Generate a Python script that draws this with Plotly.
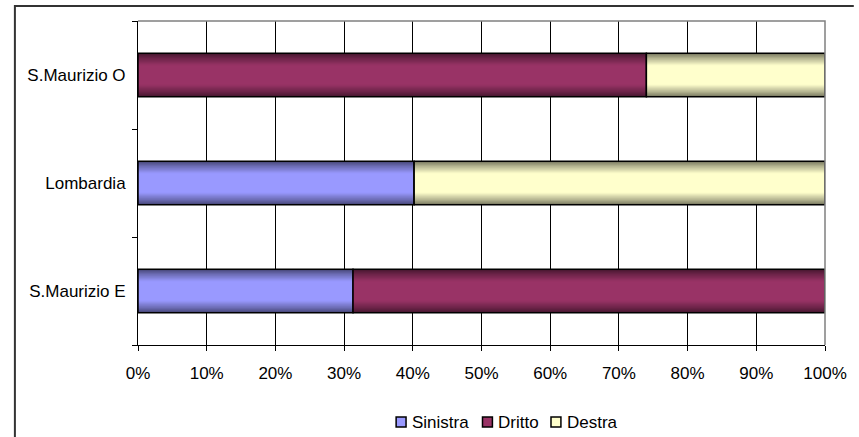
import plotly.graph_objects as go

categories = ["S.Maurizio E", "Lombardia", "S.Maurizio O"]
sinistra = [31.3, 40.2, 0.0]
dritto = [68.7, 0.0, 74.0]
destra = [0.0, 59.8, 26.0]

series = [
    ("Sinistra", sinistra, (153, 153, 255)),
    ("Dritto", dritto, (153, 51, 102)),
    ("Destra", destra, (255, 255, 204)),
]

BAR_W = 0.405
N_LAYERS = 12


def shade(rgb, f):
    return "rgb(%d,%d,%d)" % tuple(round(c * f) for c in rgb)


fig = go.Figure()

base = [0.0] * len(categories)
for name, vals, rgb in series:
    # fake the Excel gradient: stacked layers, darker at the edges
    for k in range(N_LAYERS):
        t = k / (N_LAYERS - 1)
        fig.add_trace(go.Bar(
            y=categories, x=vals, base=base, orientation="h",
            width=BAR_W * (1 - 0.55 * t),
            marker=dict(color=shade(rgb, 0.45 + 0.55 * t ** 0.8), line=dict(width=0)),
            showlegend=False, hoverinfo="skip",
        ))
    # black outline
    fig.add_trace(go.Bar(
        y=categories, x=vals, base=base, orientation="h", width=BAR_W,
        marker=dict(color="rgba(0,0,0,0)", line=dict(color="black", width=1.5)),
        showlegend=False, name=name,
    ))
    base = [b + v for b, v in zip(base, vals)]

L, R, T, B = 138, 29, 21, 92
W, H = 859, 437
pw, ph = W - L - R, H - T - B


def px_x(x):
    return (x - L) / pw


def px_y(y):
    return (H - B - y) / ph


shapes = [
    # plot area frame (top/right grey)
    dict(type="path", xref="paper", yref="paper",
         path="M 0 1 L 1 1 L 1 0", line=dict(color="#808080", width=1.5), layer="above"),
    # outer chart frame
    dict(type="path", xref="paper", yref="paper",
         path=f"M {px_x(14)} {px_y(437)} L {px_x(14)} {px_y(6)} L {px_x(859)} {px_y(6)}",
         line=dict(color="#333333", width=2)),
]
annotations = []

# hand-made legend, Excel style (small square + label)
legend_x = [398, 485, 554]
for (name, vals, rgb), lx in zip(series, legend_x):
    shapes.append(dict(type="rect", xref="paper", yref="paper",
                       x0=px_x(lx), x1=px_x(lx + 10), y0=px_y(427), y1=px_y(417),
                       fillcolor=shade(rgb, 1.0), line=dict(color="black", width=1.5)))
    annotations.append(dict(xref="paper", yref="paper", x=px_x(lx + 14), y=px_y(422),
                            xanchor="left", yanchor="middle", text=name, showarrow=False,
                            font=dict(size=17)))

fig.update_layout(
    width=W - 16, height=H - 16,
    margin=dict(l=L, r=R, t=T, b=B, pad=0),
    barmode="overlay",
    showlegend=False,
    paper_bgcolor="white", plot_bgcolor="white",
    font=dict(family="Liberation Sans, Arial, sans-serif", size=17, color="black"),
    xaxis=dict(
        range=[0, 100], tickvals=list(range(0, 101, 10)),
        ticktext=[f"{v}%" for v in range(0, 101, 10)],
        showgrid=True, gridcolor="black", gridwidth=1,
        showline=True, linecolor="black", linewidth=1,
        ticks="outside", ticklen=5, tickcolor="black", zeroline=False,
        ticklabelstandoff=8, fixedrange=True,
    ),
    yaxis=dict(
        categoryorder="array", categoryarray=categories, range=[-0.5, 2.5],
        showline=True, linecolor="black", linewidth=1, showgrid=False,
        ticks="outside", ticklen=5, tickcolor="black", tickson="boundaries",
        ticklabelstandoff=8, fixedrange=True,
    ),
    shapes=shapes,
    annotations=annotations,
)

# page opens with the default 8px body margin; drop it and grow to full size
fig.write_html(
    "out.html",
    config={"displayModeBar": False},
    post_script=(
        "document.body.style.margin='0';document.body.style.overflow='hidden';"
        "var gd=document.getElementById('{plot_id}');"
        f"gd.style.width='{W}px';gd.style.height='{H}px';"
        f"return Plotly.relayout(gd,{{width:{W},height:{H}}});"
    ),
)
